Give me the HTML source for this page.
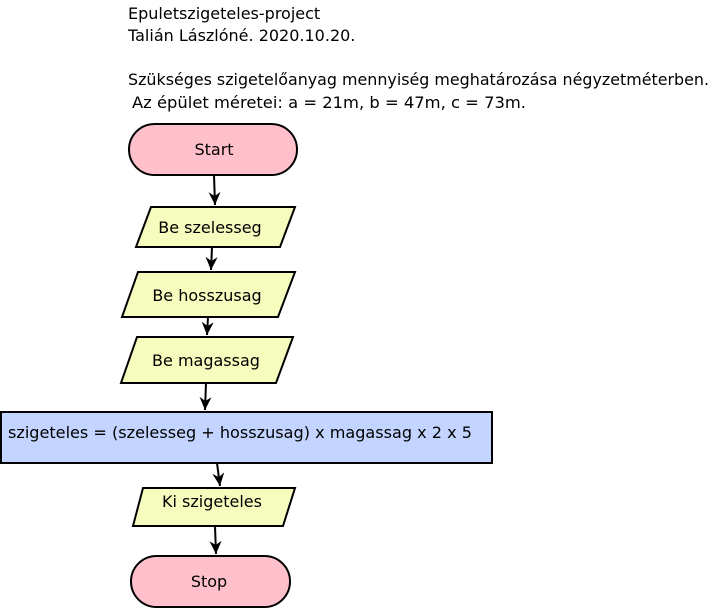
<!DOCTYPE html>
<html><head><meta charset="utf-8"><style>
html,body{margin:0;padding:0;background:#fff;width:712px;height:609px;overflow:hidden}
</style></head><body>
<svg width="712" height="609" viewBox="0 0 712 609" xmlns="http://www.w3.org/2000/svg" font-family="DejaVu Sans, Liberation Sans, sans-serif" font-size="16">
<defs><marker id="a" markerWidth="14" markerHeight="14" refX="13" refY="6" orient="auto" markerUnits="userSpaceOnUse"><path d="M0,0 L13,6 L0,12 L4,6 z" fill="#000"/></marker></defs>
<text x="128" y="19" font-size="16">Epuletszigeteles-project</text>
<text x="128" y="41" font-size="16">Talián Lászlóné. 2020.10.20.</text>
<text x="128" y="85" font-size="16" textLength="581" lengthAdjust="spacingAndGlyphs">Szükséges szigetelőanyag mennyiség meghatározása négyzetméterben.</text>
<text x="132" y="108" font-size="16" textLength="394" lengthAdjust="spacingAndGlyphs">Az épület méretei: a = 21m, b = 47m, c = 73m.</text>
<g stroke="#000" stroke-width="2">
<rect x="129" y="124" width="168" height="51" rx="25.5" fill="#ffc0cb"/>
<polygon points="151,207 295,207 280,247 136,247" fill="#f5fcbd"/>
<polygon points="138,272 295,272 278,317 122,317" fill="#f5fcbd"/>
<polygon points="137,337 293,337 276,383 121,383" fill="#f5fcbd"/>
<rect x="1" y="412" width="491" height="51" fill="#c2d4ff"/>
<polygon points="143,488 295,488 283,526 133,526" fill="#f5fcbd"/>
<rect x="131" y="556" width="159" height="51" rx="25.5" fill="#ffc0cb"/>
<g fill="none" marker-end="url(#a)">
<line x1="214" y1="175" x2="215" y2="205"/>
<line x1="212" y1="247" x2="211" y2="270"/>
<line x1="208" y1="317" x2="207" y2="335"/>
<line x1="206" y1="383" x2="205" y2="410"/>
<line x1="217" y1="463" x2="220" y2="486"/>
<line x1="215" y1="526" x2="216" y2="554"/>
</g></g>
<text x="214" y="155" text-anchor="middle">Start</text>
<text x="210" y="233" text-anchor="middle">Be szelesseg</text>
<text x="207" y="301" text-anchor="middle">Be hosszusag</text>
<text x="206" y="366" text-anchor="middle">Be magassag</text>
<text x="8" y="438" textLength="464" lengthAdjust="spacingAndGlyphs">szigeteles = (szelesseg + hosszusag) x magassag x 2 x 5</text>
<text x="212" y="507" text-anchor="middle">Ki szigeteles</text>
<text x="209" y="587" text-anchor="middle">Stop</text>
</svg>
</body></html>
